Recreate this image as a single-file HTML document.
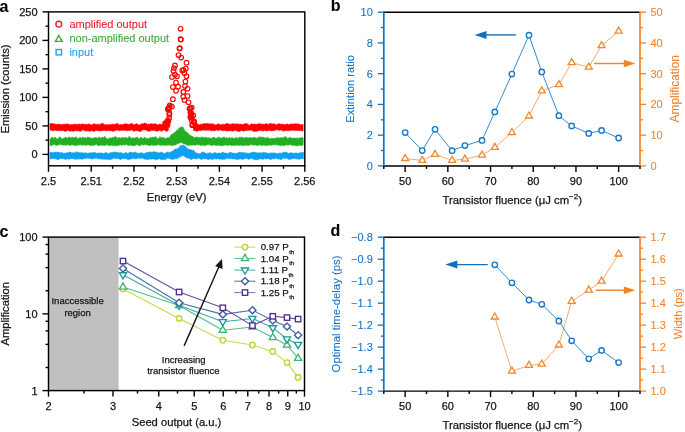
<!DOCTYPE html>
<html><head><meta charset="utf-8"><style>
html,body{margin:0;padding:0;background:#fff;}
svg{display:block;will-change:transform;}
text{font-family:"Liberation Sans",sans-serif;}
</style></head><body>
<svg width="685" height="432" viewBox="0 0 685 432">
<rect width="685" height="432" fill="#fff"/>
<text x="-0.6" y="12" font-size="16" fill="#000" stroke="#000" stroke-width="0.08" text-anchor="start" font-weight="bold">a</text>
<text x="330.8" y="11.1" font-size="16" fill="#000" stroke="#000" stroke-width="0.08" text-anchor="start" font-weight="bold">b</text>
<text x="-0.6" y="237" font-size="16" fill="#000" stroke="#000" stroke-width="0.08" text-anchor="start" font-weight="bold">c</text>
<text x="330.6" y="236.2" font-size="16" fill="#000" stroke="#000" stroke-width="0.08" text-anchor="start" font-weight="bold">d</text>
<polygon points="50,152.24 50.8,152.5 51.6,152.3 52.4,152.61 53.2,152.38 54,152.37 54.8,152.34 55.6,152.08 56.4,152.38 57.2,152.03 58,152.08 58.8,152.07 59.6,152.67 60.4,152.7 61.2,152.54 62,152.38 62.8,153.04 63.6,153.32 64.4,153.14 65.2,153.16 66,152.74 66.8,153.11 67.6,152.56 68.4,152.63 69.2,152.04 70,152.06 70.8,152.59 71.6,152.64 72.4,152.86 73.2,152.72 74,152.87 74.8,152.85 75.6,152.39 76.4,152.14 77.2,151.86 78,152.36 78.8,152.65 79.6,152.74 80.4,152.66 81.2,152.68 82,152.67 82.8,152.84 83.6,153.03 84.4,152.99 85.2,152.81 86,152.67 86.8,153.18 87.6,153.3 88.4,153.11 89.2,153.2 90,152.71 90.8,152.81 91.6,152.63 92.4,152.66 93.2,152.72 94,152.14 94.8,152.56 95.6,152.78 96.4,153.2 97.2,153.37 98,153.01 98.8,153.11 99.6,152.88 100.4,153.1 101.2,152.9 102,153.1 102.8,153.39 103.6,153.41 104.4,153.27 105.2,152.56 106,152.74 106.8,152.73 107.6,153.47 108.4,153.57 109.2,153.28 110,152.79 110.8,152.67 111.6,152.46 112.4,152.52 113.2,152.12 114,152.2 114.8,151.88 115.6,152.36 116.4,152.37 117.2,152.52 118,152.21 118.8,152.81 119.6,152.67 120.4,152.72 121.2,152.46 122,153.11 122.8,153.4 123.6,153.65 124.4,153.17 125.2,152.85 126,152.44 126.8,152.93 127.6,153.36 128.4,153.19 129.2,152.63 130,152.05 130.8,152.11 131.6,152.36 132.4,152.65 133.2,152.67 134,152.28 134.8,152.15 135.6,152.23 136.4,152.68 137.2,153.11 138,153.37 138.8,153.33 139.6,153.06 140.4,153.05 141.2,152.68 142,152.9 142.8,152.99 143.6,153.64 144.4,153.56 145.2,153.25 146,152.87 146.8,152.32 147.6,152.51 148.4,152.24 149.2,152.21 150,151.87 150.8,151.95 151.6,152.17 152.4,152.04 153.2,151.91 154,151.76 154.8,151.8 155.6,152.09 156.4,151.99 157.2,152.61 158,152.81 158.8,152.91 159.6,152.41 160.4,152.2 161.2,152.37 162,152.27 162.8,152.67 163.6,153.17 164.4,153.45 165.2,153.15 166,152.43 166.8,152.14 167.6,152.02 168.4,152.17 169.2,152.75 170,152.48 170.8,151.8 171.6,151.4 172.4,151.2 173.2,150.81 174,149.99 174.8,149.1 175.6,148.91 176.4,148.77 177.2,148.94 178,148.58 178.8,147.52 179.6,146.63 180.4,145.71 181.2,145.63 182,145.27 182.8,145.27 183.6,145.41 184.4,145.65 185.2,146.17 186,147.18 186.8,148.18 187.6,148.67 188.4,149.03 189.2,149.43 190,149.46 190.8,149.71 191.6,149.9 192.4,150.23 193.2,150.33 194,150.76 194.8,151.44 195.6,152.46 196.4,153.13 197.2,153.28 198,153.47 198.8,153.5 199.6,153.9 200.4,153.45 201.2,152.83 202,152.25 202.8,152.12 203.6,152.1 204.4,152.42 205.2,152.98 206,153.49 206.8,153.38 207.6,153.18 208.4,153.15 209.2,152.83 210,152.84 210.8,152.92 211.6,153.48 212.4,153.55 213.2,153.21 214,152.73 214.8,152.76 215.6,152.64 216.4,153.14 217.2,153.28 218,153.33 218.8,153.02 219.6,153 220.4,153.26 221.2,153.07 222,152.42 222.8,151.96 223.6,152.55 224.4,153.09 225.2,153.09 226,153.02 226.8,153.16 227.6,153.57 228.4,153.19 229.2,152.85 230,152.42 230.8,152.16 231.6,152.49 232.4,152.91 233.2,153.32 234,153.29 234.8,153.12 235.6,153.39 236.4,153.31 237.2,153.13 238,152.63 238.8,152.2 239.6,152.23 240.4,152.5 241.2,152.47 242,152.61 242.8,152.25 243.6,152.77 244.4,152.72 245.2,152.98 246,152.72 246.8,153.16 247.6,153.13 248.4,153.39 249.2,153.07 250,153.16 250.8,152.85 251.6,152.46 252.4,152.39 253.2,152.11 254,152.1 254.8,152.39 255.6,152.38 256.4,152.76 257.2,152.7 258,153 258.8,152.89 259.6,152.72 260.4,152.72 261.2,153.09 262,152.76 262.8,152.76 263.6,152.33 264.4,152.47 265.2,152.64 266,152.85 266.8,153.07 267.6,153.06 268.4,153.39 269.2,153.29 270,153.17 270.8,152.85 271.6,152.9 272.4,152.97 273.2,152.93 274,152.94 274.8,152.77 275.6,153.16 276.4,153.3 277.2,153.61 278,153.61 278.8,153.26 279.6,153.01 280.4,153.01 281.2,153.47 282,153.14 282.8,152.48 283.6,152.16 284.4,152.11 285.2,152.2 286,151.91 286.8,152.39 287.6,152.82 288.4,153.48 289.2,153.07 290,153.01 290.8,152.82 291.6,152.82 292.4,152.95 293.2,153.19 294,153.26 294.8,153.31 295.6,152.86 296.4,153.07 297.2,153.1 298,153.45 298.8,153.19 299.6,152.74 300.4,152.49 301.2,152.63 302,152.44 302.8,152.28 303.6,152.27 303.6,158.83 302.8,158.68 302,158.54 301.2,158.39 300.4,158.88 299.6,159.17 298.8,159.4 298,158.81 297.2,159.08 296.4,158.9 295.6,158.85 294.8,158.34 294,158.42 293.2,158.79 292.4,158.85 291.6,158.88 290.8,159.06 290,159.44 289.2,159.57 288.4,159.17 287.6,158.65 286.8,158.27 286,158.34 285.2,158.22 284.4,158.3 283.6,158.14 282.8,158.43 282,159.07 281.2,159.68 280.4,159.5 279.6,159.1 278.8,159.1 278,159.09 277.2,158.82 276.4,158.23 275.6,158.38 274.8,158.7 274,158.8 273.2,159.01 272.4,158.77 271.6,159.31 270.8,159.38 270,159.41 269.2,158.9 268.4,158.69 267.6,158.55 266.8,159.02 266,158.68 265.2,158.81 264.4,158.58 263.6,159.15 262.8,159.28 262,159.35 261.2,158.79 260.4,159 259.6,158.85 258.8,159.57 258,159.72 257.2,159.79 256.4,159.69 255.6,159.66 254.8,159.92 254,159.57 253.2,159.02 252.4,158.66 251.6,158.57 250.8,158.62 250,158.96 249.2,158.98 248.4,159.44 247.6,158.78 246.8,158.59 246,158.14 245.2,158.4 244.4,158.65 243.6,158.9 242.8,159.36 242,159.38 241.2,159.21 240.4,158.64 239.6,159.05 238.8,159.32 238,159.83 237.2,159.21 236.4,159.31 235.6,159.17 234.8,159.07 234,159.07 233.2,158.73 232.4,159 231.6,158.44 230.8,158.43 230,158.51 229.2,158.8 228.4,158.56 227.6,158.22 226.8,158.21 226,158.93 225.2,159.09 224.4,159.27 223.6,159.26 222.8,159.48 222,159.57 221.2,158.97 220.4,159.32 219.6,159.09 218.8,159.09 218,158.8 217.2,158.55 216.4,159.19 215.6,158.89 214.8,158.94 214,158.54 213.2,159.15 212.4,159.59 211.6,159.6 210.8,158.84 210,158.93 209.2,159.35 208.4,159.49 207.6,159.46 206.8,158.77 206,158.98 205.2,158.64 204.4,158.96 203.6,158.82 202.8,158.99 202,159.13 201.2,159.43 200.4,159.11 199.6,158.6 198.8,158.07 198,158.31 197.2,158.51 196.4,159.09 195.6,158.84 194.8,158.72 194,158.18 193.2,158.49 192.4,158.87 191.6,159.42 190.8,159.38 190,158.97 189.2,158.36 188.4,157.91 187.6,158.01 186.8,157.99 186,157.46 185.2,156.96 184.4,156.29 183.6,155.88 182.8,155.35 182,156.03 181.2,156.32 180.4,156.94 179.6,157.08 178.8,157.73 178,158.1 177.2,158.61 176.4,158.51 175.6,158.61 174.8,158.74 174,159.24 173.2,159.35 172.4,159.25 171.6,159.42 170.8,159 170,158.84 169.2,158.28 168.4,158.22 167.6,158.12 166.8,158.56 166,159.08 165.2,159.62 164.4,159.53 163.6,159.64 162.8,159.57 162,159.77 161.2,159.52 160.4,159.29 159.6,158.73 158.8,158.98 158,159.15 157.2,159.54 156.4,159.6 155.6,159.68 154.8,159.22 154,159.02 153.2,158.93 152.4,159.01 151.6,159.29 150.8,158.97 150,159.16 149.2,159.08 148.4,159.39 147.6,159.6 146.8,159.5 146,159.35 145.2,159.29 144.4,158.88 143.6,158.7 142.8,158.25 142,158.09 141.2,158.17 140.4,158.22 139.6,158.4 138.8,158.09 138,158.42 137.2,158.37 136.4,158.77 135.6,158.74 134.8,158.89 134,158.49 133.2,158.39 132.4,158.33 131.6,159.11 130.8,159.02 130,159.21 129.2,159.21 128.4,159.79 127.6,159.56 126.8,159.14 126,158.49 125.2,158.65 124.4,158.53 123.6,158.6 122.8,158.45 122,158.76 121.2,159.26 120.4,159.71 119.6,159.24 118.8,158.67 118,158.2 117.2,158.73 116.4,158.65 115.6,158.55 114.8,158 114,158.23 113.2,158.45 112.4,158.91 111.6,159.2 110.8,159.54 110,159.31 109.2,159.53 108.4,159.41 107.6,159.54 106.8,159.07 106,159.19 105.2,159.18 104.4,159.21 103.6,159.2 102.8,158.89 102,159.29 101.2,159.01 100.4,159.08 99.6,158.77 98.8,158.98 98,158.84 97.2,158.6 96.4,158.03 95.6,158.29 94.8,158.23 94,158.62 93.2,158.57 92.4,159.04 91.6,158.88 90.8,158.9 90,158.46 89.2,158.25 88.4,158.13 87.6,158.06 86.8,158.21 86,158.5 85.2,158.52 84.4,158.54 83.6,158.86 82.8,159.2 82,159.26 81.2,158.88 80.4,159.12 79.6,158.91 78.8,159.23 78,158.61 77.2,159.19 76.4,159.02 75.6,159.7 74.8,159.12 74,158.95 73.2,158.75 72.4,158.74 71.6,158.47 70.8,158.48 70,158.89 69.2,159.55 68.4,159.11 67.6,158.86 66.8,158.78 66,159.39 65.2,159.52 64.4,158.97 63.6,158.46 62.8,158.74 62,158.67 61.2,158.67 60.4,158.13 59.6,158.87 58.8,159.29 58,160 57.2,159.27 56.4,159.05 55.6,158.76 54.8,158.97 54,158.58 53.2,158.43 52.4,158.61 51.6,158.61 50.8,158.84 50,158.97" fill="#0fa0f0" stroke="#0fa0f0" stroke-width="0.6" stroke-linejoin="round"/>
<polygon points="50,139.14 50.6,139.05 51.2,138.06 51.8,137.19 52.4,137.01 53,137.95 53.6,138.42 54.2,138.29 54.8,137.33 55.4,137.24 56,137.61 56.6,138.49 57.2,138.98 57.8,139.03 58.4,138.41 59,137.62 59.6,136.75 60.2,137.04 60.8,137.65 61.4,138.49 62,138.7 62.6,138.66 63.2,138.48 63.8,138.19 64.4,138.09 65,137.32 65.6,137.66 66.2,137.32 66.8,138.26 67.4,138.12 68,138.19 68.6,137.35 69.2,136.93 69.8,137.28 70.4,137.89 71,137.74 71.6,137.14 72.2,136.95 72.8,137.46 73.4,137.8 74,137.47 74.6,137.49 75.2,137.09 75.8,137.17 76.4,137.02 77,138.04 77.6,138.4 78.2,138.85 78.8,138.34 79.4,137.9 80,137.22 80.6,137.74 81.2,138.24 81.8,138.3 82.4,137.3 83,137.08 83.6,137.47 84.2,137.9 84.8,137.64 85.4,137.63 86,138.17 86.6,138.14 87.2,137.47 87.8,136.84 88.4,137.05 89,137.74 89.6,137.59 90.2,137.99 90.8,138.05 91.4,138.38 92,137.75 92.6,137.99 93.2,137.79 93.8,138.44 94.4,137.65 95,137.56 95.6,137.49 96.2,137.56 96.8,138.34 97.4,138.06 98,137.94 98.6,137.17 99.2,137.08 99.8,137.59 100.4,138.37 101,138.08 101.6,137.79 102.2,137 102.8,137.89 103.4,137.62 104,137.45 104.6,136.47 105.2,136.74 105.8,137.64 106.4,138.52 107,138.88 107.6,138.99 108.2,139.04 108.8,138.61 109.4,137.74 110,137.75 110.6,138.19 111.2,138.03 111.8,137.74 112.4,137.35 113,137.71 113.6,137.36 114.2,137.13 114.8,136.74 115.4,136.68 116,136.88 116.6,137.89 117.2,137.73 117.8,138.38 118.4,137.58 119,137.83 119.6,137.68 120.2,138.33 120.8,138.41 121.4,137.59 122,137.22 122.6,137.16 123.2,138.08 123.8,137.78 124.4,137.78 125,137.75 125.6,137.58 126.2,137.63 126.8,137.54 127.4,138.32 128,137.93 128.6,137.1 129.2,136.35 129.8,137.29 130.4,137.52 131,138.25 131.6,138.23 132.2,138.32 132.8,137.81 133.4,137.87 134,138.17 134.6,138.16 135.2,137.9 135.8,137.58 136.4,137.6 137,136.84 137.6,137.3 138.2,137.99 138.8,138.66 139.4,138.86 140,137.91 140.6,137.48 141.2,136.98 141.8,137.98 142.4,138.74 143,138.65 143.6,137.9 144.2,137.34 144.8,137.45 145.4,138.17 146,137.91 146.6,138.24 147.2,138.04 147.8,138.72 148.4,138.69 149,138.55 149.6,138.02 150.2,137.54 150.8,137.28 151.4,137.76 152,137.5 152.6,137.33 153.2,137.3 153.8,137.48 154.4,137.34 155,136.57 155.6,136.89 156.2,137.17 156.8,138.18 157.4,138.54 158,139.24 158.6,138.48 159.2,137.63 159.8,136.68 160.4,136.92 161,137.59 161.6,137.97 162.2,137.68 162.8,137.37 163.4,137.56 164,138.03 164.6,138.38 165.2,138.62 165.8,138.61 166.4,137.94 167,137.93 167.6,137.54 168.2,138.01 168.8,137.52 169.4,137.51 170,136.54 170.6,135.83 171.2,134.73 171.8,134.11 172.4,134.21 173,133.99 173.6,133.6 174.2,132.51 174.8,132.38 175.4,131.99 176,131.24 176.6,130.47 177.2,130.05 177.8,130.29 178.4,128.96 179,128.19 179.6,127.44 180.2,127.65 180.8,127.54 181.4,127.09 182,127.09 182.6,126.81 183.2,127.55 183.8,128.85 184.4,129.92 185,131.28 185.6,131.22 186.2,132.09 186.8,132.15 187.4,132.61 188,133.09 188.6,134.19 189.2,134.61 189.8,134.99 190.4,135.21 191,135.91 191.6,136.24 192.2,136.31 192.8,136.87 193.4,136.84 194,137.33 194.6,137.81 195.2,137.75 195.8,137.12 196.4,136.78 197,137.28 197.6,137.47 198.2,137.45 198.8,136.95 199.4,137.6 200,137.85 200.6,137.7 201.2,136.96 201.8,136.8 202.4,137.32 203,137.89 203.6,137.57 204.2,137.15 204.8,137.21 205.4,137.55 206,137.68 206.6,137.27 207.2,137.85 207.8,137.88 208.4,138.15 209,137.52 209.6,137.63 210.2,137.95 210.8,138.63 211.4,138.57 212,137.86 212.6,137.57 213.2,137.4 213.8,137.2 214.4,137.39 215,137.62 215.6,138.49 216.2,137.96 216.8,138.45 217.4,138.07 218,137.81 218.6,136.88 219.2,136.98 219.8,137.49 220.4,138.44 221,137.95 221.6,137.93 222.2,137.35 222.8,137.8 223.4,137.29 224,137.2 224.6,137.21 225.2,138.05 225.8,137.86 226.4,137.83 227,137.7 227.6,138.61 228.2,138.3 228.8,137.58 229.4,137.55 230,138.38 230.6,138.76 231.2,137.81 231.8,137.76 232.4,137.66 233,138.57 233.6,138.24 234.2,138.71 234.8,137.91 235.4,138.09 236,137.45 236.6,137.71 237.2,137.77 237.8,138.42 238.4,138.18 239,137.51 239.6,137.05 240.2,137.41 240.8,137.59 241.4,137.29 242,137 242.6,137.37 243.2,138.19 243.8,137.97 244.4,137.8 245,137.65 245.6,137.65 246.2,137.94 246.8,137.26 247.4,137.86 248,137.55 248.6,138.1 249.2,137.78 249.8,137.64 250.4,137.6 251,137.72 251.6,137.98 252.2,137.83 252.8,137.85 253.4,137.17 254,137.35 254.6,137.41 255.2,137.63 255.8,137.79 256.4,138.1 257,138.34 257.6,137.71 258.2,137.39 258.8,137.01 259.4,136.96 260,136.91 260.6,136.89 261.2,137.23 261.8,137.31 262.4,137.26 263,137.47 263.6,137.01 264.2,137.75 264.8,137.9 265.4,138.36 266,137.63 266.6,137.34 267.2,137.2 267.8,138.15 268.4,137.76 269,138.27 269.6,138.32 270.2,138.96 270.8,138.91 271.4,138.06 272,138.32 272.6,137.98 273.2,138.79 273.8,138.72 274.4,138.37 275,138.19 275.6,138.21 276.2,138.1 276.8,137.64 277.4,137.45 278,137.55 278.6,138.13 279.2,137.62 279.8,138.32 280.4,137.52 281,137.76 281.6,137.87 282.2,137.94 282.8,137.68 283.4,137.24 284,137.36 284.6,137.12 285.2,136.77 285.8,136.61 286.4,137.57 287,138.1 287.6,138.88 288.2,138.06 288.8,138.17 289.4,137.34 290,137.73 290.6,137.57 291.2,137.83 291.8,138.19 292.4,138.11 293,138.34 293.6,138.35 294.2,137.87 294.8,138.31 295.4,138.04 296,138.35 296.6,138.14 297.2,137.75 297.8,138.39 298.4,138.15 299,138.26 299.6,138.02 300.2,137.87 300.8,137.68 301.4,137.65 302,137.23 302.6,137.92 303.2,138 303.2,144.92 302.6,145.33 302,145.45 301.4,145.58 300.8,145.34 300.2,145.51 299.6,145.15 299,145.35 298.4,145.42 297.8,145.88 297.2,145.77 296.6,145.76 296,145.57 295.4,145.72 294.8,145.31 294.2,145.43 293.6,145.44 293,145.43 292.4,145.14 291.8,145.05 291.2,145.1 290.6,144.97 290,144.52 289.4,144.53 288.8,144.87 288.2,145.44 287.6,145.28 287,144.85 286.4,144.64 285.8,145.19 285.2,145.27 284.6,145.37 284,145.42 283.4,145.88 282.8,145.39 282.2,145.36 281.6,145.43 281,145.63 280.4,145.5 279.8,145.31 279.2,145.35 278.6,145.23 278,145.01 277.4,144.88 276.8,144.75 276.2,145.03 275.6,144.87 275,144.81 274.4,144.61 273.8,144.78 273.2,144.9 272.6,144.8 272,145.2 271.4,145.18 270.8,145.56 270.2,145.08 269.6,145.2 269,144.85 268.4,145.07 267.8,145.25 267.2,145.6 266.6,145.72 266,145.41 265.4,145.5 264.8,145.23 264.2,145.37 263.6,145.04 263,145.31 262.4,145.48 261.8,145.68 261.2,145.34 260.6,144.95 260,144.69 259.4,145.14 258.8,145.14 258.2,145.23 257.6,145.32 257,145.67 256.4,145.47 255.8,145.02 255.2,144.76 254.6,145.08 254,145.18 253.4,145.22 252.8,144.77 252.2,144.75 251.6,144.66 251,144.69 250.4,144.66 249.8,145.13 249.2,145.17 248.6,145.45 248,145.05 247.4,145.43 246.8,145.06 246.2,145.43 245.6,145.25 245,145.45 244.4,145.37 243.8,145.53 243.2,145.52 242.6,145.45 242,145.38 241.4,145.42 240.8,145.01 240.2,145 239.6,145.24 239,145.69 238.4,145.46 237.8,145.19 237.2,144.69 236.6,145.24 236,145.2 235.4,145.44 234.8,145.3 234.2,145.41 233.6,145.28 233,145.38 232.4,145.39 231.8,145.54 231.2,145.34 230.6,145.19 230,145.2 229.4,144.95 228.8,145.07 228.2,145.26 227.6,145.62 227,145.48 226.4,145.07 225.8,144.96 225.2,144.89 224.6,145.13 224,145.14 223.4,145.38 222.8,145.65 222.2,145.69 221.6,145.75 221,145.77 220.4,145.78 219.8,145.42 219.2,145.11 218.6,145.13 218,145.36 217.4,145.37 216.8,145.47 216.2,145.59 215.6,145.57 215,145.37 214.4,144.97 213.8,145.01 213.2,145.02 212.6,145.26 212,145.42 211.4,145.52 210.8,145.46 210.2,145.02 209.6,144.75 209,144.62 208.4,144.67 207.8,144.83 207.2,144.83 206.6,145.05 206,145.11 205.4,145.51 204.8,145.87 204.2,145.64 203.6,145.18 203,145.17 202.4,144.98 201.8,145.4 201.2,145.4 200.6,145.46 200,145.19 199.4,144.65 198.8,144.87 198.2,144.87 197.6,144.93 197,144.69 196.4,144.57 195.8,144.97 195.2,145.33 194.6,145.43 194,145 193.4,144.69 192.8,145.08 192.2,145.26 191.6,145.18 191,144.98 190.4,145.19 189.8,145.39 189.2,145.12 188.6,145.1 188,145.25 187.4,145.7 186.8,145.21 186.2,144.68 185.6,144.05 185,144.08 184.4,144.07 183.8,144.04 183.2,143.66 182.6,143.16 182,142.52 181.4,142.45 180.8,142.3 180.2,142.78 179.6,143.09 179,143.31 178.4,143.41 177.8,143.13 177.2,143.85 176.6,144.07 176,144.94 175.4,144.91 174.8,145.32 174.2,144.97 173.6,145.12 173,145.38 172.4,145.61 171.8,145.71 171.2,145.24 170.6,145.2 170,144.75 169.4,145.03 168.8,145.07 168.2,145.14 167.6,145 167,145.16 166.4,145.19 165.8,145.56 165.2,145.16 164.6,145.32 164,144.88 163.4,145.18 162.8,145.18 162.2,145.39 161.6,144.86 161,145.18 160.4,145.36 159.8,145.49 159.2,144.84 158.6,144.45 158,144.86 157.4,144.92 156.8,145.38 156.2,144.98 155.6,145.28 155,145.17 154.4,145.26 153.8,145.42 153.2,145.24 152.6,145.28 152,144.79 151.4,144.91 150.8,145.2 150.2,145.52 149.6,145.75 149,145.39 148.4,145.3 147.8,145.14 147.2,145.11 146.6,145.04 146,144.57 145.4,144.67 144.8,144.71 144.2,144.83 143.6,145.05 143,144.91 142.4,144.84 141.8,144.52 141.2,144.88 140.6,145.36 140,145.59 139.4,145.71 138.8,145.73 138.2,145.33 137.6,144.86 137,144.43 136.4,144.48 135.8,145.04 135.2,145.51 134.6,146.02 134,145.43 133.4,145.42 132.8,145.38 132.2,145.89 131.6,145.53 131,145.38 130.4,144.88 129.8,145.13 129.2,145.2 128.6,145.58 128,145.55 127.4,145.11 126.8,144.71 126.2,144.34 125.6,144.54 125,145.14 124.4,145.12 123.8,144.91 123.2,144.39 122.6,144.92 122,144.96 121.4,145.27 120.8,144.81 120.2,144.96 119.6,144.93 119,145.27 118.4,145.35 117.8,145.55 117.2,145.53 116.6,145.8 116,145.54 115.4,145.73 114.8,145.61 114.2,145.76 113.6,145.53 113,145.69 112.4,145.38 111.8,145.18 111.2,145.17 110.6,145.22 110,145.5 109.4,145.55 108.8,145.82 108.2,145.48 107.6,145.03 107,144.54 106.4,144.97 105.8,144.94 105.2,145.57 104.6,145.42 104,145.45 103.4,145.15 102.8,145.25 102.2,145.37 101.6,145.39 101,145.04 100.4,145.22 99.8,145.42 99.2,145.7 98.6,145.73 98,145.39 97.4,144.95 96.8,144.6 96.2,144.45 95.6,144.58 95,144.72 94.4,145.15 93.8,145.31 93.2,145.5 92.6,145.57 92,145.26 91.4,145.24 90.8,145.2 90.2,145.79 89.6,145.35 89,145.03 88.4,144.64 87.8,144.72 87.2,145.06 86.6,145.29 86,145.51 85.4,145.37 84.8,145.08 84.2,144.83 83.6,145.06 83,145.29 82.4,145.2 81.8,145.09 81.2,144.77 80.6,144.92 80,144.67 79.4,144.98 78.8,144.85 78.2,145.19 77.6,145 77,145.46 76.4,145.48 75.8,145.61 75.2,145.55 74.6,145.16 74,145.24 73.4,145.24 72.8,145.01 72.2,144.81 71.6,144.65 71,145.17 70.4,145.57 69.8,145.73 69.2,145.27 68.6,144.79 68,144.53 67.4,145.09 66.8,145.08 66.2,145.23 65.6,145.02 65,145.07 64.4,145.14 63.8,145.12 63.2,145.13 62.6,144.98 62,144.66 61.4,144.75 60.8,144.51 60.2,144.45 59.6,144.65 59,144.8 58.4,144.87 57.8,145.04 57.2,145.23 56.6,145.43 56,145.24 55.4,145 54.8,144.73 54.2,144.32 53.6,144.43 53,144.85 52.4,145.24 51.8,145.69 51.2,145.67 50.6,145.45 50,144.96" fill="#22b022" stroke="#22b022" stroke-width="0.6" stroke-linejoin="round"/>
<polygon points="50,123.49 50.8,123.69 51.6,123.55 52.4,123.81 53.2,123.54 54,123.88 54.8,123.91 55.6,124.22 56.4,124.52 57.2,124.13 58,124.37 58.8,124.05 59.6,124.5 60.4,124.36 61.2,124.65 62,124.5 62.8,124.31 63.6,124.4 64.4,124.16 65.2,124.34 66,124.08 66.8,124.04 67.6,124.02 68.4,124.06 69.2,124.78 70,124.56 70.8,124.79 71.6,124.46 72.4,124.58 73.2,124.51 74,124.13 74.8,124.32 75.6,124.1 76.4,124.35 77.2,124.46 78,124.25 78.8,124.36 79.6,124.09 80.4,124.42 81.2,124.21 82,124.13 82.8,123.85 83.6,124.13 84.4,124.44 85.2,124.34 86,124.56 86.8,124.22 87.6,124.39 88.4,123.94 89.2,124.03 90,124.4 90.8,124.71 91.6,124.94 92.4,124.42 93.2,124.15 94,123.76 94.8,123.96 95.6,124.22 96.4,124.6 97.2,124.17 98,124.24 98.8,124.32 99.6,124.72 100.4,124.18 101.2,123.72 102,123.29 102.8,123.4 103.6,123.89 104.4,124.38 105.2,124.75 106,124.64 106.8,124.89 107.6,124.85 108.4,124.71 109.2,124.48 110,124.55 110.8,124.54 111.6,124.58 112.4,124.19 113.2,124.25 114,124.07 114.8,124.51 115.6,124.06 116.4,123.84 117.2,123.26 118,123.79 118.8,124.38 119.6,124.88 120.4,124.55 121.2,124.48 122,124.58 122.8,124.74 123.6,124.29 124.4,123.9 125.2,123.79 126,123.83 126.8,123.94 127.6,124.11 128.4,124.61 129.2,124.3 130,124.24 130.8,123.53 131.6,123.58 132.4,123.77 133.2,124.2 134,124.84 134.8,124.55 135.6,124.1 136.4,123.68 137.2,123.79 138,124.53 138.8,125.01 139.6,124.92 140.4,124.49 141.2,123.79 142,123.93 142.8,123.77 143.6,123.81 144.4,123.3 145.2,123.14 146,123.56 146.8,123.65 147.6,124.42 148.4,123.94 149.2,124.54 150,123.87 150.8,123.81 151.6,123.69 152.4,123.78 153.2,124.36 154,123.93 154.8,123.78 155.6,123.81 156.4,124.23 157.2,124.87 158,124.84 158.8,124.34 159.6,124.15 160.4,124.14 161.2,124.44 162,124.68 162.8,124.32 163.6,124.72 164.4,124.55 165.2,124.35 166,123.59 166.8,123.54 167.6,124.19 168.4,124.83 168.4,130.15 167.6,130.83 166.8,131.52 166,131.13 165.2,130.61 164.4,129.92 163.6,129.81 162.8,130.4 162,131.14 161.2,131.09 160.4,130.66 159.6,130.2 158.8,130.61 158,131.02 157.2,131.21 156.4,131.13 155.6,130.57 154.8,130.82 154,130.47 153.2,130.58 152.4,130.29 151.6,130.25 150.8,130.66 150,130.94 149.2,131.25 148.4,131.22 147.6,130.91 146.8,130.58 146,129.95 145.2,129.65 144.4,129.77 143.6,129.74 142.8,129.79 142,130.4 141.2,131.03 140.4,131.44 139.6,131.43 138.8,131.11 138,131.12 137.2,130.57 136.4,130.69 135.6,130.45 134.8,130.94 134,131.27 133.2,130.91 132.4,130.24 131.6,129.86 130.8,130.11 130,130.57 129.2,130.28 128.4,130.63 127.6,130.66 126.8,130.62 126,130.29 125.2,130.58 124.4,130.53 123.6,130.35 122.8,129.97 122,130.25 121.2,130.59 120.4,130.46 119.6,130.7 118.8,130.4 118,130.26 117.2,129.85 116.4,130.18 115.6,130.4 114.8,130.67 114,130.91 113.2,131.24 112.4,131.29 111.6,130.77 110.8,130.67 110,130.85 109.2,130.73 108.4,130.48 107.6,130.47 106.8,131 106,130.84 105.2,130.37 104.4,130.14 103.6,130.48 102.8,130.8 102,130.61 101.2,130.82 100.4,130.93 99.6,130.91 98.8,130.8 98,130.64 97.2,130.55 96.4,130.19 95.6,130.48 94.8,130.96 94,131.32 93.2,131.27 92.4,130.95 91.6,130.76 90.8,130.77 90,131.2 89.2,131.41 88.4,130.75 87.6,130.81 86.8,130.8 86,131.23 85.2,130.86 84.4,130.42 83.6,129.95 82.8,129.84 82,130.27 81.2,130.99 80.4,131.24 79.6,131.15 78.8,130.73 78,130.96 77.2,130.75 76.4,130.7 75.6,130.47 74.8,130.79 74,131.33 73.2,131.33 72.4,130.93 71.6,130.81 70.8,130.89 70,131.4 69.2,130.79 68.4,130.46 67.6,130.14 66.8,130.72 66,131.24 65.2,131.41 64.4,131.09 63.6,130.67 62.8,130.55 62,130.75 61.2,130.71 60.4,130.84 59.6,130.44 58.8,130.7 58,130.41 57.2,130.75 56.4,130.51 55.6,130.2 54.8,130.13 54,130.53 53.2,130.61 52.4,130.81 51.6,130.37 50.8,130.3 50,129.78" fill="#ff0000" stroke="#ff0000" stroke-width="0.6" stroke-linejoin="round"/>
<polygon points="193.5,124.83 194.3,124.71 195.1,124.87 195.9,124.35 196.7,123.95 197.5,123.76 198.3,124.47 199.1,124.9 199.9,124.53 200.7,124.25 201.5,124.32 202.3,124.16 203.1,123.95 203.9,123.55 204.7,123.56 205.5,123.69 206.3,123.62 207.1,123.71 207.9,123.44 208.7,123.85 209.5,123.67 210.3,124.13 211.1,123.74 211.9,123.76 212.7,123.93 213.5,123.95 214.3,124.67 215.1,124.62 215.9,125.15 216.7,124.52 217.5,124.18 218.3,123.55 219.1,124.18 219.9,124.49 220.7,124.92 221.5,124.54 222.3,124.14 223.1,124.29 223.9,124.31 224.7,124.54 225.5,124 226.3,123.79 227.1,123.34 227.9,123.79 228.7,124.06 229.5,124.13 230.3,124.26 231.1,124.03 231.9,124.24 232.7,123.67 233.5,123.67 234.3,124.01 235.1,124.16 235.9,124.07 236.7,123.79 237.5,123.78 238.3,124.37 239.1,124.07 239.9,124.6 240.7,123.92 241.5,124.54 242.3,124.3 243.1,124.42 243.9,124.09 244.7,123.78 245.5,123.82 246.3,123.6 247.1,123.66 247.9,124.25 248.7,124.88 249.5,125.33 250.3,124.62 251.1,124.05 251.9,124.03 252.7,123.99 253.5,124.34 254.3,123.86 255.1,124.6 255.9,124.03 256.7,124.44 257.5,123.93 258.3,124.03 259.1,123.39 259.9,123.78 260.7,124.09 261.5,124.24 262.3,123.92 263.1,124.23 263.9,124.25 264.7,124.36 265.5,123.74 266.3,123.71 267.1,123.87 267.9,124.33 268.7,124.34 269.5,123.79 270.3,123.29 271.1,123.62 271.9,123.95 272.7,124.1 273.5,123.78 274.3,123.87 275.1,124.22 275.9,124.71 276.7,124.68 277.5,124.28 278.3,123.68 279.1,123.8 279.9,123.97 280.7,124.49 281.5,123.95 282.3,124.27 283.1,123.96 283.9,124.59 284.7,124.63 285.5,124.76 286.3,124.1 287.1,124.13 287.9,124.12 288.7,124.81 289.5,124.29 290.3,124.06 291.1,124.03 291.9,124.11 292.7,124.09 293.5,123.72 294.3,123.9 295.1,123.78 295.9,123.9 296.7,123.78 297.5,124.18 298.3,123.87 299.1,124.08 299.9,124.32 300.7,124.92 301.5,124.6 302.3,124.52 303.1,124.39 303.1,130.87 302.3,131.04 301.5,130.65 300.7,130.81 299.9,130.47 299.1,130.43 298.3,130.73 297.5,130.56 296.7,130.38 295.9,130.16 295.1,130.18 294.3,130.59 293.5,130.29 292.7,130.18 291.9,130.02 291.1,130.22 290.3,130.51 289.5,130.7 288.7,130.7 287.9,130.78 287.1,130.5 286.3,130.65 285.5,130.54 284.7,130.86 283.9,131.02 283.1,131 282.3,130.58 281.5,130.1 280.7,129.9 279.9,130.15 279.1,130.19 278.3,130.07 277.5,129.84 276.7,129.72 275.9,130.04 275.1,130.32 274.3,130.41 273.5,130.4 272.7,130.79 271.9,131.05 271.1,130.74 270.3,130.49 269.5,130.26 268.7,130.39 267.9,130.64 267.1,130.74 266.3,130.92 265.5,130.36 264.7,130.51 263.9,130.84 263.1,131.07 262.3,130.79 261.5,130.6 260.7,130.37 259.9,130.67 259.1,130.15 258.3,130.65 257.5,130.84 256.7,131.46 255.9,131.26 255.1,131.3 254.3,131.28 253.5,131.55 252.7,130.91 251.9,130.3 251.1,129.93 250.3,130.17 249.5,130.21 248.7,130.23 247.9,130.17 247.1,130.62 246.3,130.54 245.5,130.44 244.7,130.68 243.9,131.11 243.1,131.33 242.3,130.62 241.5,130.53 240.7,130.77 239.9,131.46 239.1,131.43 238.3,131.56 237.5,131.18 236.7,130.8 235.9,130.21 235.1,130.13 234.3,130.48 233.5,131.05 232.7,131.09 231.9,130.89 231.1,130.81 230.3,130.83 229.5,130.72 228.7,130.8 227.9,131.12 227.1,130.94 226.3,130.79 225.5,130.59 224.7,130.57 223.9,130.66 223.1,130.68 222.3,130.67 221.5,130.31 220.7,129.93 219.9,130.05 219.1,130.12 218.3,130.42 217.5,130.29 216.7,129.93 215.9,130.11 215.1,130.71 214.3,130.75 213.5,130.74 212.7,130.46 211.9,130.84 211.1,130.76 210.3,130.35 209.5,130.05 208.7,130.13 207.9,130.19 207.1,130.06 206.3,130.15 205.5,130.28 204.7,130.34 203.9,129.83 203.1,129.81 202.3,130.5 201.5,130.37 200.7,130.62 199.9,130.27 199.1,130.66 198.3,130.63 197.5,130.97 196.7,131.26 195.9,130.91 195.1,130.75 194.3,130.36 193.5,130.61" fill="#ff0000" stroke="#ff0000" stroke-width="0.6" stroke-linejoin="round"/>
<circle cx="180.6" cy="28.75" r="2.3" stroke="#ff0000" stroke-width="1.15" fill="none"/>
<circle cx="180.6" cy="39.2" r="2.3" stroke="#ff0000" stroke-width="1.15" fill="none"/>
<circle cx="179.8" cy="48.1" r="2.3" stroke="#ff0000" stroke-width="1.15" fill="none"/>
<circle cx="178.5" cy="55" r="2.3" stroke="#ff0000" stroke-width="1.15" fill="none"/>
<circle cx="181.2" cy="57.5" r="2.3" stroke="#ff0000" stroke-width="1.15" fill="none"/>
<circle cx="186.5" cy="62.7" r="2.3" stroke="#ff0000" stroke-width="1.15" fill="none"/>
<circle cx="175" cy="65.4" r="2.3" stroke="#ff0000" stroke-width="1.15" fill="none"/>
<circle cx="173.5" cy="71" r="2.3" stroke="#ff0000" stroke-width="1.15" fill="none"/>
<circle cx="182.3" cy="70.4" r="2.3" stroke="#ff0000" stroke-width="1.15" fill="none"/>
<circle cx="175" cy="74.6" r="2.3" stroke="#ff0000" stroke-width="1.15" fill="none"/>
<circle cx="177" cy="76.25" r="2.3" stroke="#ff0000" stroke-width="1.15" fill="none"/>
<circle cx="184.4" cy="73.1" r="2.3" stroke="#ff0000" stroke-width="1.15" fill="none"/>
<circle cx="186.5" cy="76.25" r="2.3" stroke="#ff0000" stroke-width="1.15" fill="none"/>
<circle cx="185.4" cy="81.5" r="2.3" stroke="#ff0000" stroke-width="1.15" fill="none"/>
<circle cx="172" cy="77" r="2.3" stroke="#ff0000" stroke-width="1.15" fill="none"/>
<circle cx="176" cy="82.5" r="2.3" stroke="#ff0000" stroke-width="1.15" fill="none"/>
<circle cx="178.1" cy="86.7" r="2.3" stroke="#ff0000" stroke-width="1.15" fill="none"/>
<circle cx="172.9" cy="87.1" r="2.3" stroke="#ff0000" stroke-width="1.15" fill="none"/>
<circle cx="187.5" cy="88.75" r="2.3" stroke="#ff0000" stroke-width="1.15" fill="none"/>
<circle cx="176" cy="90.8" r="2.3" stroke="#ff0000" stroke-width="1.15" fill="none"/>
<circle cx="183.3" cy="91.9" r="2.3" stroke="#ff0000" stroke-width="1.15" fill="none"/>
<circle cx="187.5" cy="96" r="2.3" stroke="#ff0000" stroke-width="1.15" fill="none"/>
<circle cx="183.3" cy="96.7" r="2.3" stroke="#ff0000" stroke-width="1.15" fill="none"/>
<circle cx="172.9" cy="99.2" r="2.3" stroke="#ff0000" stroke-width="1.15" fill="none"/>
<circle cx="188.5" cy="102.3" r="2.3" stroke="#ff0000" stroke-width="1.15" fill="none"/>
<circle cx="169.8" cy="105.4" r="2.3" stroke="#ff0000" stroke-width="1.15" fill="none"/>
<circle cx="171.9" cy="106.5" r="2.3" stroke="#ff0000" stroke-width="1.15" fill="none"/>
<circle cx="191.7" cy="107.5" r="2.3" stroke="#ff0000" stroke-width="1.15" fill="none"/>
<circle cx="167.89" cy="109.17" r="2.3" stroke="#ff0000" stroke-width="1.15" fill="none"/>
<circle cx="166.73" cy="123.43" r="2.3" stroke="#ff0000" stroke-width="1.15" fill="none"/>
<circle cx="169.38" cy="107.24" r="2.3" stroke="#ff0000" stroke-width="1.15" fill="none"/>
<circle cx="169.31" cy="114.8" r="2.3" stroke="#ff0000" stroke-width="1.15" fill="none"/>
<circle cx="168.63" cy="108.18" r="2.3" stroke="#ff0000" stroke-width="1.15" fill="none"/>
<circle cx="167.5" cy="125.19" r="2.3" stroke="#ff0000" stroke-width="1.15" fill="none"/>
<circle cx="168.87" cy="109.09" r="2.3" stroke="#ff0000" stroke-width="1.15" fill="none"/>
<circle cx="169.4" cy="113.05" r="2.3" stroke="#ff0000" stroke-width="1.15" fill="none"/>
<circle cx="169.1" cy="118.33" r="2.3" stroke="#ff0000" stroke-width="1.15" fill="none"/>
<circle cx="167.19" cy="122.42" r="2.3" stroke="#ff0000" stroke-width="1.15" fill="none"/>
<circle cx="168.29" cy="120.78" r="2.3" stroke="#ff0000" stroke-width="1.15" fill="none"/>
<circle cx="167.25" cy="121.19" r="2.3" stroke="#ff0000" stroke-width="1.15" fill="none"/>
<circle cx="168" cy="121.7" r="2.3" stroke="#ff0000" stroke-width="1.15" fill="none"/>
<circle cx="165.46" cy="124.29" r="2.3" stroke="#ff0000" stroke-width="1.15" fill="none"/>
<circle cx="165.17" cy="123.42" r="2.3" stroke="#ff0000" stroke-width="1.15" fill="none"/>
<circle cx="167.63" cy="121.31" r="2.3" stroke="#ff0000" stroke-width="1.15" fill="none"/>
<circle cx="193.16" cy="115.46" r="2.3" stroke="#ff0000" stroke-width="1.15" fill="none"/>
<circle cx="191.49" cy="117.01" r="2.3" stroke="#ff0000" stroke-width="1.15" fill="none"/>
<circle cx="193.98" cy="121.46" r="2.3" stroke="#ff0000" stroke-width="1.15" fill="none"/>
<circle cx="191.5" cy="117.75" r="2.3" stroke="#ff0000" stroke-width="1.15" fill="none"/>
<circle cx="191.16" cy="114.5" r="2.3" stroke="#ff0000" stroke-width="1.15" fill="none"/>
<circle cx="191.65" cy="120.18" r="2.3" stroke="#ff0000" stroke-width="1.15" fill="none"/>
<circle cx="191.26" cy="113.2" r="2.3" stroke="#ff0000" stroke-width="1.15" fill="none"/>
<circle cx="190.4" cy="113.07" r="2.3" stroke="#ff0000" stroke-width="1.15" fill="none"/>
<circle cx="193.91" cy="121.53" r="2.3" stroke="#ff0000" stroke-width="1.15" fill="none"/>
<circle cx="191.3" cy="115.49" r="2.3" stroke="#ff0000" stroke-width="1.15" fill="none"/>
<circle cx="189.53" cy="108.87" r="2.3" stroke="#ff0000" stroke-width="1.15" fill="none"/>
<circle cx="190.35" cy="108.04" r="2.3" stroke="#ff0000" stroke-width="1.15" fill="none"/>
<circle cx="190.34" cy="117.21" r="2.3" stroke="#ff0000" stroke-width="1.15" fill="none"/>
<circle cx="192.55" cy="124.32" r="2.3" stroke="#ff0000" stroke-width="1.15" fill="none"/>
<circle cx="194.09" cy="122.71" r="2.3" stroke="#ff0000" stroke-width="1.15" fill="none"/>
<circle cx="192.27" cy="125.13" r="2.3" stroke="#ff0000" stroke-width="1.15" fill="none"/>
<circle cx="180.9" cy="39.6" r="2.3" stroke="#ff0000" stroke-width="1.15" fill="none"/>
<circle cx="179.5" cy="48.6" r="2.3" stroke="#ff0000" stroke-width="1.15" fill="none"/>
<circle cx="174" cy="68" r="2.3" stroke="#ff0000" stroke-width="1.15" fill="none"/>
<circle cx="183.5" cy="70" r="2.3" stroke="#ff0000" stroke-width="1.15" fill="none"/>
<circle cx="185.8" cy="68.5" r="2.3" stroke="#ff0000" stroke-width="1.15" fill="none"/>
<circle cx="185" cy="86" r="2.3" stroke="#ff0000" stroke-width="1.15" fill="none"/>
<circle cx="184.5" cy="100" r="2.3" stroke="#ff0000" stroke-width="1.15" fill="none"/>
<rect x="48.5" y="11.9" width="256.3" height="153.9" fill="none" stroke="#000" stroke-width="1.45"/>
<line x1="42.5" y1="154.4" x2="48.5" y2="154.4" stroke="#000" stroke-width="1.4" />
<text x="37.6" y="158.3" font-size="11" fill="#151515" stroke="#151515" stroke-width="0.25" text-anchor="end" >0</text>
<line x1="42.5" y1="125.9" x2="48.5" y2="125.9" stroke="#000" stroke-width="1.4" />
<text x="37.6" y="129.8" font-size="11" fill="#151515" stroke="#151515" stroke-width="0.25" text-anchor="end" >50</text>
<line x1="42.5" y1="97.4" x2="48.5" y2="97.4" stroke="#000" stroke-width="1.4" />
<text x="37.6" y="101.3" font-size="11" fill="#151515" stroke="#151515" stroke-width="0.25" text-anchor="end" >100</text>
<line x1="42.5" y1="68.9" x2="48.5" y2="68.9" stroke="#000" stroke-width="1.4" />
<text x="37.6" y="72.8" font-size="11" fill="#151515" stroke="#151515" stroke-width="0.25" text-anchor="end" >150</text>
<line x1="42.5" y1="40.4" x2="48.5" y2="40.4" stroke="#000" stroke-width="1.4" />
<text x="37.6" y="44.3" font-size="11" fill="#151515" stroke="#151515" stroke-width="0.25" text-anchor="end" >200</text>
<line x1="42.5" y1="11.9" x2="48.5" y2="11.9" stroke="#000" stroke-width="1.4" />
<text x="37.6" y="15.8" font-size="11" fill="#151515" stroke="#151515" stroke-width="0.25" text-anchor="end" >250</text>
<line x1="45.5" y1="140.15" x2="48.5" y2="140.15" stroke="#000" stroke-width="1.4" />
<line x1="45.5" y1="111.65" x2="48.5" y2="111.65" stroke="#000" stroke-width="1.4" />
<line x1="45.5" y1="83.15" x2="48.5" y2="83.15" stroke="#000" stroke-width="1.4" />
<line x1="45.5" y1="54.65" x2="48.5" y2="54.65" stroke="#000" stroke-width="1.4" />
<line x1="45.5" y1="26.15" x2="48.5" y2="26.15" stroke="#000" stroke-width="1.4" />
<line x1="48.5" y1="165.8" x2="48.5" y2="171.8" stroke="#000" stroke-width="1.4" />
<text x="48.5" y="184.6" font-size="11" fill="#151515" stroke="#151515" stroke-width="0.25" text-anchor="middle" >2.5</text>
<line x1="91.22" y1="165.8" x2="91.22" y2="171.8" stroke="#000" stroke-width="1.4" />
<text x="91.22" y="184.6" font-size="11" fill="#151515" stroke="#151515" stroke-width="0.25" text-anchor="middle" >2.51</text>
<line x1="133.93" y1="165.8" x2="133.93" y2="171.8" stroke="#000" stroke-width="1.4" />
<text x="133.93" y="184.6" font-size="11" fill="#151515" stroke="#151515" stroke-width="0.25" text-anchor="middle" >2.52</text>
<line x1="176.65" y1="165.8" x2="176.65" y2="171.8" stroke="#000" stroke-width="1.4" />
<text x="176.65" y="184.6" font-size="11" fill="#151515" stroke="#151515" stroke-width="0.25" text-anchor="middle" >2.53</text>
<line x1="219.37" y1="165.8" x2="219.37" y2="171.8" stroke="#000" stroke-width="1.4" />
<text x="219.37" y="184.6" font-size="11" fill="#151515" stroke="#151515" stroke-width="0.25" text-anchor="middle" >2.54</text>
<line x1="262.08" y1="165.8" x2="262.08" y2="171.8" stroke="#000" stroke-width="1.4" />
<text x="262.08" y="184.6" font-size="11" fill="#151515" stroke="#151515" stroke-width="0.25" text-anchor="middle" >2.55</text>
<line x1="304.8" y1="165.8" x2="304.8" y2="171.8" stroke="#000" stroke-width="1.4" />
<text x="304.8" y="184.6" font-size="11" fill="#151515" stroke="#151515" stroke-width="0.25" text-anchor="middle" >2.56</text>
<line x1="69.86" y1="165.8" x2="69.86" y2="168.8" stroke="#000" stroke-width="1.4" />
<line x1="112.57" y1="165.8" x2="112.57" y2="168.8" stroke="#000" stroke-width="1.4" />
<line x1="155.29" y1="165.8" x2="155.29" y2="168.8" stroke="#000" stroke-width="1.4" />
<line x1="198.01" y1="165.8" x2="198.01" y2="168.8" stroke="#000" stroke-width="1.4" />
<line x1="240.72" y1="165.8" x2="240.72" y2="168.8" stroke="#000" stroke-width="1.4" />
<line x1="283.44" y1="165.8" x2="283.44" y2="168.8" stroke="#000" stroke-width="1.4" />
<text x="0" y="0" font-size="11.2" fill="#151515" stroke="#151515" stroke-width="0.25" text-anchor="middle" transform="translate(8.7,89) rotate(-90)">Emission (counts)</text>
<text x="176.7" y="201" font-size="11.2" fill="#151515" stroke="#151515" stroke-width="0.25" text-anchor="middle" >Energy (eV)</text>
<circle cx="58.8" cy="24.2" r="2.9" stroke="#e8202a" stroke-width="1.4" fill="white"/>
<polygon points="58.8,35.47 55.4,41.36 62.2,41.36" stroke="#3aaa3a" stroke-width="1.4" fill="white" stroke-linejoin="miter"/>
<rect x="56.1" y="49.5" width="5.4" height="5.4" stroke="#20a0e8" stroke-width="1.4" fill="white"/>
<text x="69.4" y="27.8" font-size="11" fill="#e8202a" stroke="#e8202a" stroke-width="0.08" text-anchor="start" >amplified output</text>
<text x="69.4" y="42" font-size="11" fill="#3aaa3a" stroke="#3aaa3a" stroke-width="0.08" text-anchor="start" >non-amplified output</text>
<text x="69.4" y="55.6" font-size="11" fill="#20a0e8" stroke="#20a0e8" stroke-width="0.08" text-anchor="start" >input</text>
<line x1="383.8" y1="12.2" x2="640" y2="12.2" stroke="#000" stroke-width="1.45" />
<line x1="383.8" y1="165.9" x2="640" y2="165.9" stroke="#000" stroke-width="1.45" />
<line x1="383.8" y1="11.5" x2="383.8" y2="166.6" stroke="#1472c0" stroke-width="1.7" />
<line x1="640" y1="11.5" x2="640" y2="166.6" stroke="#f08228" stroke-width="1.7" />
<line x1="377.8" y1="165.9" x2="383.8" y2="165.9" stroke="#1472c0" stroke-width="1.3" />
<text x="372.8" y="169.8" font-size="11" fill="#1472c0" stroke="#1472c0" stroke-width="0.08" text-anchor="end" >0</text>
<line x1="377.8" y1="135.16" x2="383.8" y2="135.16" stroke="#1472c0" stroke-width="1.3" />
<text x="372.8" y="139.06" font-size="11" fill="#1472c0" stroke="#1472c0" stroke-width="0.08" text-anchor="end" >2</text>
<line x1="377.8" y1="104.42" x2="383.8" y2="104.42" stroke="#1472c0" stroke-width="1.3" />
<text x="372.8" y="108.32" font-size="11" fill="#1472c0" stroke="#1472c0" stroke-width="0.08" text-anchor="end" >4</text>
<line x1="377.8" y1="73.68" x2="383.8" y2="73.68" stroke="#1472c0" stroke-width="1.3" />
<text x="372.8" y="77.58" font-size="11" fill="#1472c0" stroke="#1472c0" stroke-width="0.08" text-anchor="end" >6</text>
<line x1="377.8" y1="42.94" x2="383.8" y2="42.94" stroke="#1472c0" stroke-width="1.3" />
<text x="372.8" y="46.84" font-size="11" fill="#1472c0" stroke="#1472c0" stroke-width="0.08" text-anchor="end" >8</text>
<line x1="377.8" y1="12.2" x2="383.8" y2="12.2" stroke="#1472c0" stroke-width="1.3" />
<text x="372.8" y="16.1" font-size="11" fill="#1472c0" stroke="#1472c0" stroke-width="0.08" text-anchor="end" >10</text>
<line x1="380.8" y1="150.53" x2="383.8" y2="150.53" stroke="#1472c0" stroke-width="1.3" />
<line x1="380.8" y1="119.79" x2="383.8" y2="119.79" stroke="#1472c0" stroke-width="1.3" />
<line x1="380.8" y1="89.05" x2="383.8" y2="89.05" stroke="#1472c0" stroke-width="1.3" />
<line x1="380.8" y1="58.31" x2="383.8" y2="58.31" stroke="#1472c0" stroke-width="1.3" />
<line x1="380.8" y1="27.57" x2="383.8" y2="27.57" stroke="#1472c0" stroke-width="1.3" />
<line x1="640" y1="165.9" x2="646" y2="165.9" stroke="#f08228" stroke-width="1.3" />
<text x="650.5" y="169.8" font-size="11" fill="#f08228" stroke="#f08228" stroke-width="0.08" text-anchor="start" >0</text>
<line x1="640" y1="135.16" x2="646" y2="135.16" stroke="#f08228" stroke-width="1.3" />
<text x="650.5" y="139.06" font-size="11" fill="#f08228" stroke="#f08228" stroke-width="0.08" text-anchor="start" >10</text>
<line x1="640" y1="104.42" x2="646" y2="104.42" stroke="#f08228" stroke-width="1.3" />
<text x="650.5" y="108.32" font-size="11" fill="#f08228" stroke="#f08228" stroke-width="0.08" text-anchor="start" >20</text>
<line x1="640" y1="73.68" x2="646" y2="73.68" stroke="#f08228" stroke-width="1.3" />
<text x="650.5" y="77.58" font-size="11" fill="#f08228" stroke="#f08228" stroke-width="0.08" text-anchor="start" >30</text>
<line x1="640" y1="42.94" x2="646" y2="42.94" stroke="#f08228" stroke-width="1.3" />
<text x="650.5" y="46.84" font-size="11" fill="#f08228" stroke="#f08228" stroke-width="0.08" text-anchor="start" >40</text>
<line x1="640" y1="12.2" x2="646" y2="12.2" stroke="#f08228" stroke-width="1.3" />
<text x="650.5" y="16.1" font-size="11" fill="#f08228" stroke="#f08228" stroke-width="0.08" text-anchor="start" >50</text>
<line x1="640" y1="150.53" x2="643" y2="150.53" stroke="#f08228" stroke-width="1.3" />
<line x1="640" y1="119.79" x2="643" y2="119.79" stroke="#f08228" stroke-width="1.3" />
<line x1="640" y1="89.05" x2="643" y2="89.05" stroke="#f08228" stroke-width="1.3" />
<line x1="640" y1="58.31" x2="643" y2="58.31" stroke="#f08228" stroke-width="1.3" />
<line x1="640" y1="27.57" x2="643" y2="27.57" stroke="#f08228" stroke-width="1.3" />
<line x1="405.15" y1="165.9" x2="405.15" y2="171.9" stroke="#000" stroke-width="1.4" />
<text x="405.15" y="184.6" font-size="11" fill="#151515" stroke="#151515" stroke-width="0.25" text-anchor="middle" >50</text>
<line x1="447.85" y1="165.9" x2="447.85" y2="171.9" stroke="#000" stroke-width="1.4" />
<text x="447.85" y="184.6" font-size="11" fill="#151515" stroke="#151515" stroke-width="0.25" text-anchor="middle" >60</text>
<line x1="490.55" y1="165.9" x2="490.55" y2="171.9" stroke="#000" stroke-width="1.4" />
<text x="490.55" y="184.6" font-size="11" fill="#151515" stroke="#151515" stroke-width="0.25" text-anchor="middle" >70</text>
<line x1="533.25" y1="165.9" x2="533.25" y2="171.9" stroke="#000" stroke-width="1.4" />
<text x="533.25" y="184.6" font-size="11" fill="#151515" stroke="#151515" stroke-width="0.25" text-anchor="middle" >80</text>
<line x1="575.95" y1="165.9" x2="575.95" y2="171.9" stroke="#000" stroke-width="1.4" />
<text x="575.95" y="184.6" font-size="11" fill="#151515" stroke="#151515" stroke-width="0.25" text-anchor="middle" >90</text>
<line x1="618.65" y1="165.9" x2="618.65" y2="171.9" stroke="#000" stroke-width="1.4" />
<text x="618.65" y="184.6" font-size="11" fill="#151515" stroke="#151515" stroke-width="0.25" text-anchor="middle" >100</text>
<line x1="383.8" y1="165.9" x2="383.8" y2="168.9" stroke="#000" stroke-width="1.4" />
<line x1="426.5" y1="165.9" x2="426.5" y2="168.9" stroke="#000" stroke-width="1.4" />
<line x1="469.2" y1="165.9" x2="469.2" y2="168.9" stroke="#000" stroke-width="1.4" />
<line x1="511.9" y1="165.9" x2="511.9" y2="168.9" stroke="#000" stroke-width="1.4" />
<line x1="554.6" y1="165.9" x2="554.6" y2="168.9" stroke="#000" stroke-width="1.4" />
<line x1="597.3" y1="165.9" x2="597.3" y2="168.9" stroke="#000" stroke-width="1.4" />
<line x1="640" y1="165.9" x2="640" y2="168.9" stroke="#000" stroke-width="1.4" />
<text x="0" y="0" font-size="11.2" fill="#1472c0" stroke="#1472c0" stroke-width="0.08" text-anchor="middle" transform="translate(353.9,88.9) rotate(-90)">Extintion ratio</text>
<text x="0" y="0" font-size="11.9" fill="#f08228" stroke="#f08228" stroke-width="0.08" text-anchor="middle" transform="translate(679,88.75) rotate(-90)">Amplification</text>
<text x="512.2" y="203.7" font-size="11.3" fill="#151515" stroke="#151515" stroke-width="0.25" text-anchor="middle">Transistor fluence (<tspan>μ</tspan>J cm<tspan dy="-5" font-size="8">−2</tspan><tspan dy="5">)</tspan></text>
<polyline points="405.15,158.5 422.23,160.4 435.04,154.4 452.12,160.4 464.93,159.1 482.01,155.2 494.82,147.4 511.9,132.5 528.98,116 541.79,90.9 558.87,84.7 571.68,62.7 588.76,67.2 601.57,45.6 618.65,31.1" stroke="#f5a060" stroke-width="0.9" fill="none" stroke-linejoin="round"/>
<polyline points="405.15,132.6 422.23,150.6 435.04,129.3 452.12,150.7 464.93,145.6 482.01,140.4 494.82,111.9 511.9,74.1 528.98,35.2 541.79,71.9 558.87,115.7 571.68,125.9 588.76,133.4 601.57,130.4 618.65,138" stroke="#2a84cc" stroke-width="0.95" fill="none" stroke-linejoin="round"/>
<polygon points="405.15,154.46 401.65,160.52 408.65,160.52" stroke="#f08a30" stroke-width="1.3" fill="white" stroke-linejoin="miter"/>
<polygon points="422.23,156.36 418.73,162.42 425.73,162.42" stroke="#f08a30" stroke-width="1.3" fill="white" stroke-linejoin="miter"/>
<polygon points="435.04,150.36 431.54,156.42 438.54,156.42" stroke="#f08a30" stroke-width="1.3" fill="white" stroke-linejoin="miter"/>
<polygon points="452.12,156.36 448.62,162.42 455.62,162.42" stroke="#f08a30" stroke-width="1.3" fill="white" stroke-linejoin="miter"/>
<polygon points="464.93,155.06 461.43,161.12 468.43,161.12" stroke="#f08a30" stroke-width="1.3" fill="white" stroke-linejoin="miter"/>
<polygon points="482.01,151.16 478.51,157.22 485.51,157.22" stroke="#f08a30" stroke-width="1.3" fill="white" stroke-linejoin="miter"/>
<polygon points="494.82,143.36 491.32,149.42 498.32,149.42" stroke="#f08a30" stroke-width="1.3" fill="white" stroke-linejoin="miter"/>
<polygon points="511.9,128.46 508.4,134.52 515.4,134.52" stroke="#f08a30" stroke-width="1.3" fill="white" stroke-linejoin="miter"/>
<polygon points="528.98,111.96 525.48,118.02 532.48,118.02" stroke="#f08a30" stroke-width="1.3" fill="white" stroke-linejoin="miter"/>
<polygon points="541.79,86.86 538.29,92.92 545.29,92.92" stroke="#f08a30" stroke-width="1.3" fill="white" stroke-linejoin="miter"/>
<polygon points="558.87,80.66 555.37,86.72 562.37,86.72" stroke="#f08a30" stroke-width="1.3" fill="white" stroke-linejoin="miter"/>
<polygon points="571.68,58.66 568.18,64.72 575.18,64.72" stroke="#f08a30" stroke-width="1.3" fill="white" stroke-linejoin="miter"/>
<polygon points="588.76,63.16 585.26,69.22 592.26,69.22" stroke="#f08a30" stroke-width="1.3" fill="white" stroke-linejoin="miter"/>
<polygon points="601.57,41.56 598.07,47.62 605.07,47.62" stroke="#f08a30" stroke-width="1.3" fill="white" stroke-linejoin="miter"/>
<polygon points="618.65,27.06 615.15,33.12 622.15,33.12" stroke="#f08a30" stroke-width="1.3" fill="white" stroke-linejoin="miter"/>
<circle cx="405.15" cy="132.6" r="2.7" stroke="#1a78c8" stroke-width="1.4" fill="white"/>
<circle cx="422.23" cy="150.6" r="2.7" stroke="#1a78c8" stroke-width="1.4" fill="white"/>
<circle cx="435.04" cy="129.3" r="2.7" stroke="#1a78c8" stroke-width="1.4" fill="white"/>
<circle cx="452.12" cy="150.7" r="2.7" stroke="#1a78c8" stroke-width="1.4" fill="white"/>
<circle cx="464.93" cy="145.6" r="2.7" stroke="#1a78c8" stroke-width="1.4" fill="white"/>
<circle cx="482.01" cy="140.4" r="2.7" stroke="#1a78c8" stroke-width="1.4" fill="white"/>
<circle cx="494.82" cy="111.9" r="2.7" stroke="#1a78c8" stroke-width="1.4" fill="white"/>
<circle cx="511.9" cy="74.1" r="2.7" stroke="#1a78c8" stroke-width="1.4" fill="white"/>
<circle cx="528.98" cy="35.2" r="2.7" stroke="#1a78c8" stroke-width="1.4" fill="white"/>
<circle cx="541.79" cy="71.9" r="2.7" stroke="#1a78c8" stroke-width="1.4" fill="white"/>
<circle cx="558.87" cy="115.7" r="2.7" stroke="#1a78c8" stroke-width="1.4" fill="white"/>
<circle cx="571.68" cy="125.9" r="2.7" stroke="#1a78c8" stroke-width="1.4" fill="white"/>
<circle cx="588.76" cy="133.4" r="2.7" stroke="#1a78c8" stroke-width="1.4" fill="white"/>
<circle cx="601.57" cy="130.4" r="2.7" stroke="#1a78c8" stroke-width="1.4" fill="white"/>
<circle cx="618.65" cy="138" r="2.7" stroke="#1a78c8" stroke-width="1.4" fill="white"/>
<line x1="486" y1="34.9" x2="515.8" y2="34.9" stroke="#1470bc" stroke-width="1.4" />
<polygon points="474.6,34.9 486.5,30.9 486.5,38.9" fill="#1470bc"/>
<line x1="594" y1="63.5" x2="625" y2="63.5" stroke="#f08228" stroke-width="1.4" />
<polygon points="635.4,63.5 623.8,59.7 623.8,67.3" fill="#f08228"/>
<rect x="48.5" y="237.1" width="70.1" height="153.5" fill="#c0c0c0"/>
<text x="77.6" y="303.8" font-size="9.5" fill="#151515" stroke="#151515" stroke-width="0.25" text-anchor="middle" >Inaccessible</text>
<text x="77.6" y="316.3" font-size="9.5" fill="#151515" stroke="#151515" stroke-width="0.25" text-anchor="middle" >region</text>
<rect x="48.5" y="237.1" width="256" height="153.5" fill="none" stroke="#000" stroke-width="1.45"/>
<line x1="42.5" y1="390.6" x2="48.5" y2="390.6" stroke="#000" stroke-width="1.4" />
<text x="37.6" y="394.5" font-size="11" fill="#151515" stroke="#151515" stroke-width="0.25" text-anchor="end" >1</text>
<line x1="42.5" y1="313.85" x2="48.5" y2="313.85" stroke="#000" stroke-width="1.4" />
<text x="37.6" y="317.75" font-size="11" fill="#151515" stroke="#151515" stroke-width="0.25" text-anchor="end" >10</text>
<line x1="42.5" y1="237.1" x2="48.5" y2="237.1" stroke="#000" stroke-width="1.4" />
<text x="37.6" y="241" font-size="11" fill="#151515" stroke="#151515" stroke-width="0.25" text-anchor="end" >100</text>
<line x1="45.5" y1="367.5" x2="48.5" y2="367.5" stroke="#000" stroke-width="1.4" />
<line x1="45.5" y1="344.39" x2="48.5" y2="344.39" stroke="#000" stroke-width="1.4" />
<line x1="45.5" y1="330.88" x2="48.5" y2="330.88" stroke="#000" stroke-width="1.4" />
<line x1="45.5" y1="321.29" x2="48.5" y2="321.29" stroke="#000" stroke-width="1.4" />
<line x1="45.5" y1="290.75" x2="48.5" y2="290.75" stroke="#000" stroke-width="1.4" />
<line x1="45.5" y1="267.64" x2="48.5" y2="267.64" stroke="#000" stroke-width="1.4" />
<line x1="45.5" y1="254.13" x2="48.5" y2="254.13" stroke="#000" stroke-width="1.4" />
<line x1="45.5" y1="244.54" x2="48.5" y2="244.54" stroke="#000" stroke-width="1.4" />
<line x1="48.5" y1="390.6" x2="48.5" y2="396.6" stroke="#000" stroke-width="1.4" />
<text x="48.5" y="409.9" font-size="11" fill="#151515" stroke="#151515" stroke-width="0.25" text-anchor="middle" >2</text>
<line x1="112.99" y1="390.6" x2="112.99" y2="396.6" stroke="#000" stroke-width="1.4" />
<text x="112.99" y="409.9" font-size="11" fill="#151515" stroke="#151515" stroke-width="0.25" text-anchor="middle" >3</text>
<line x1="158.75" y1="390.6" x2="158.75" y2="396.6" stroke="#000" stroke-width="1.4" />
<text x="158.75" y="409.9" font-size="11" fill="#151515" stroke="#151515" stroke-width="0.25" text-anchor="middle" >4</text>
<line x1="194.25" y1="390.6" x2="194.25" y2="396.6" stroke="#000" stroke-width="1.4" />
<text x="194.25" y="409.9" font-size="11" fill="#151515" stroke="#151515" stroke-width="0.25" text-anchor="middle" >5</text>
<line x1="223.25" y1="390.6" x2="223.25" y2="396.6" stroke="#000" stroke-width="1.4" />
<text x="223.25" y="409.9" font-size="11" fill="#151515" stroke="#151515" stroke-width="0.25" text-anchor="middle" >6</text>
<line x1="247.77" y1="390.6" x2="247.77" y2="396.6" stroke="#000" stroke-width="1.4" />
<text x="247.77" y="409.9" font-size="11" fill="#151515" stroke="#151515" stroke-width="0.25" text-anchor="middle" >7</text>
<line x1="269.01" y1="390.6" x2="269.01" y2="396.6" stroke="#000" stroke-width="1.4" />
<text x="269.01" y="409.9" font-size="11" fill="#151515" stroke="#151515" stroke-width="0.25" text-anchor="middle" >8</text>
<line x1="287.74" y1="390.6" x2="287.74" y2="396.6" stroke="#000" stroke-width="1.4" />
<text x="287.74" y="409.9" font-size="11" fill="#151515" stroke="#151515" stroke-width="0.25" text-anchor="middle" >9</text>
<line x1="304.5" y1="390.6" x2="304.5" y2="396.6" stroke="#000" stroke-width="1.4" />
<text x="304.5" y="409.9" font-size="11" fill="#151515" stroke="#151515" stroke-width="0.25" text-anchor="middle" >10</text>
<line x1="83.99" y1="390.6" x2="83.99" y2="393.6" stroke="#000" stroke-width="1.4" />
<line x1="137.51" y1="390.6" x2="137.51" y2="393.6" stroke="#000" stroke-width="1.4" />
<line x1="177.49" y1="390.6" x2="177.49" y2="393.6" stroke="#000" stroke-width="1.4" />
<line x1="209.41" y1="390.6" x2="209.41" y2="393.6" stroke="#000" stroke-width="1.4" />
<line x1="235.98" y1="390.6" x2="235.98" y2="393.6" stroke="#000" stroke-width="1.4" />
<line x1="258.74" y1="390.6" x2="258.74" y2="393.6" stroke="#000" stroke-width="1.4" />
<line x1="278.65" y1="390.6" x2="278.65" y2="393.6" stroke="#000" stroke-width="1.4" />
<line x1="296.34" y1="390.6" x2="296.34" y2="393.6" stroke="#000" stroke-width="1.4" />
<text x="0" y="0" font-size="11.2" fill="#151515" stroke="#151515" stroke-width="0.25" text-anchor="middle" transform="translate(8.7,313.8) rotate(-90)">Amplification</text>
<text x="176.5" y="426.2" font-size="11.2" fill="#151515" stroke="#151515" stroke-width="0.25" text-anchor="middle" >Seed output (a.u.)</text>
<polyline points="123,288.9 179.1,318.5 222.8,340.2 252.4,345 272.8,351.5 287,362.6 298.1,377.4" stroke="#c4dc50" stroke-width="1.1" fill="none" stroke-linejoin="round"/>
<polyline points="123,287 179.1,305.5 222.8,330.2 252.4,327 272.8,337.6 287,345 298.1,358.3" stroke="#50c088" stroke-width="1.1" fill="none" stroke-linejoin="round"/>
<polyline points="123,274.8 179.1,305.2 222.8,321.7 252.4,318.5 272.8,327.8 287,338.9 298.1,344.4" stroke="#40a8a8" stroke-width="1.1" fill="none" stroke-linejoin="round"/>
<polyline points="123,268.5 179.1,302.8 222.8,314.4 252.4,310.2 272.8,320.4 287,326.5 298.1,335.2" stroke="#4a70a4" stroke-width="1.1" fill="none" stroke-linejoin="round"/>
<polyline points="123,261.1 179.1,292 222.8,307.8 252.4,325.6 272.8,316.3 287,317.6 298.1,319.1" stroke="#6a4aa4" stroke-width="1.1" fill="none" stroke-linejoin="round"/>
<circle cx="123" cy="288.9" r="2.7" stroke="#bcd630" stroke-width="1.4" fill="white"/>
<circle cx="179.1" cy="318.5" r="2.7" stroke="#bcd630" stroke-width="1.4" fill="white"/>
<circle cx="222.8" cy="340.2" r="2.7" stroke="#bcd630" stroke-width="1.4" fill="white"/>
<circle cx="252.4" cy="345" r="2.7" stroke="#bcd630" stroke-width="1.4" fill="white"/>
<circle cx="272.8" cy="351.5" r="2.7" stroke="#bcd630" stroke-width="1.4" fill="white"/>
<circle cx="287" cy="362.6" r="2.7" stroke="#bcd630" stroke-width="1.4" fill="white"/>
<circle cx="298.1" cy="377.4" r="2.7" stroke="#bcd630" stroke-width="1.4" fill="white"/>
<polygon points="123,282.84 119.4,289.08 126.6,289.08" stroke="#3cb878" stroke-width="1.35" fill="white" stroke-linejoin="miter"/>
<polygon points="179.1,301.34 175.5,307.58 182.7,307.58" stroke="#3cb878" stroke-width="1.35" fill="white" stroke-linejoin="miter"/>
<polygon points="222.8,326.04 219.2,332.28 226.4,332.28" stroke="#3cb878" stroke-width="1.35" fill="white" stroke-linejoin="miter"/>
<polygon points="252.4,322.84 248.8,329.08 256,329.08" stroke="#3cb878" stroke-width="1.35" fill="white" stroke-linejoin="miter"/>
<polygon points="272.8,333.44 269.2,339.68 276.4,339.68" stroke="#3cb878" stroke-width="1.35" fill="white" stroke-linejoin="miter"/>
<polygon points="287,340.84 283.4,347.08 290.6,347.08" stroke="#3cb878" stroke-width="1.35" fill="white" stroke-linejoin="miter"/>
<polygon points="298.1,354.14 294.5,360.38 301.7,360.38" stroke="#3cb878" stroke-width="1.35" fill="white" stroke-linejoin="miter"/>
<polygon points="123,278.96 119.4,272.72 126.6,272.72" stroke="#20989a" stroke-width="1.35" fill="white"/>
<polygon points="179.1,309.36 175.5,303.12 182.7,303.12" stroke="#20989a" stroke-width="1.35" fill="white"/>
<polygon points="222.8,325.86 219.2,319.62 226.4,319.62" stroke="#20989a" stroke-width="1.35" fill="white"/>
<polygon points="252.4,322.66 248.8,316.42 256,316.42" stroke="#20989a" stroke-width="1.35" fill="white"/>
<polygon points="272.8,331.96 269.2,325.72 276.4,325.72" stroke="#20989a" stroke-width="1.35" fill="white"/>
<polygon points="287,343.06 283.4,336.82 290.6,336.82" stroke="#20989a" stroke-width="1.35" fill="white"/>
<polygon points="298.1,348.56 294.5,342.32 301.7,342.32" stroke="#20989a" stroke-width="1.35" fill="white"/>
<polygon points="123,264.9 126.6,268.5 123,272.1 119.4,268.5" stroke="#3a6098" stroke-width="1.35" fill="white"/>
<polygon points="179.1,299.2 182.7,302.8 179.1,306.4 175.5,302.8" stroke="#3a6098" stroke-width="1.35" fill="white"/>
<polygon points="222.8,310.8 226.4,314.4 222.8,318 219.2,314.4" stroke="#3a6098" stroke-width="1.35" fill="white"/>
<polygon points="252.4,306.6 256,310.2 252.4,313.8 248.8,310.2" stroke="#3a6098" stroke-width="1.35" fill="white"/>
<polygon points="272.8,316.8 276.4,320.4 272.8,324 269.2,320.4" stroke="#3a6098" stroke-width="1.35" fill="white"/>
<polygon points="287,322.9 290.6,326.5 287,330.1 283.4,326.5" stroke="#3a6098" stroke-width="1.35" fill="white"/>
<polygon points="298.1,331.6 301.7,335.2 298.1,338.8 294.5,335.2" stroke="#3a6098" stroke-width="1.35" fill="white"/>
<rect x="120.3" y="258.4" width="5.4" height="5.4" stroke="#4e2e90" stroke-width="1.35" fill="white"/>
<rect x="176.4" y="289.3" width="5.4" height="5.4" stroke="#4e2e90" stroke-width="1.35" fill="white"/>
<rect x="220.1" y="305.1" width="5.4" height="5.4" stroke="#4e2e90" stroke-width="1.35" fill="white"/>
<rect x="249.7" y="322.9" width="5.4" height="5.4" stroke="#4e2e90" stroke-width="1.35" fill="white"/>
<rect x="270.1" y="313.6" width="5.4" height="5.4" stroke="#4e2e90" stroke-width="1.35" fill="white"/>
<rect x="284.3" y="314.9" width="5.4" height="5.4" stroke="#4e2e90" stroke-width="1.35" fill="white"/>
<rect x="295.4" y="316.4" width="5.4" height="5.4" stroke="#4e2e90" stroke-width="1.35" fill="white"/>
<line x1="234.2" y1="247.1" x2="255.4" y2="247.1" stroke="#c8de60" stroke-width="1.1" />
<circle cx="245" cy="247.1" r="2.7" stroke="#bcd630" stroke-width="1.4" fill="white"/>
<text x="260.7" y="250.3" font-size="9.7" fill="#151515" stroke="#151515" stroke-width="0.25">0.97 P<tspan dx="0.6" dy="3.6" font-size="5.8">th</tspan></text>
<line x1="234.2" y1="258.5" x2="255.4" y2="258.5" stroke="#60c898" stroke-width="1.1" />
<polygon points="245,254.34 241.4,260.58 248.6,260.58" stroke="#3cb878" stroke-width="1.35" fill="white" stroke-linejoin="miter"/>
<text x="260.7" y="261.7" font-size="9.7" fill="#151515" stroke="#151515" stroke-width="0.25">1.04 P<tspan dx="0.6" dy="3.6" font-size="5.8">th</tspan></text>
<line x1="234.2" y1="270.1" x2="255.4" y2="270.1" stroke="#58b4b4" stroke-width="1.1" />
<polygon points="245,274.26 241.4,268.02 248.6,268.02" stroke="#20989a" stroke-width="1.35" fill="white"/>
<text x="260.7" y="273.3" font-size="9.7" fill="#151515" stroke="#151515" stroke-width="0.25">1.11 P<tspan dx="0.6" dy="3.6" font-size="5.8">th</tspan></text>
<line x1="234.2" y1="281.2" x2="255.4" y2="281.2" stroke="#5a7cb0" stroke-width="1.1" />
<polygon points="245,277.6 248.6,281.2 245,284.8 241.4,281.2" stroke="#3a6098" stroke-width="1.35" fill="white"/>
<text x="260.7" y="284.4" font-size="9.7" fill="#151515" stroke="#151515" stroke-width="0.25">1.18 P<tspan dx="0.6" dy="3.6" font-size="5.8">th</tspan></text>
<line x1="234.2" y1="292.6" x2="255.4" y2="292.6" stroke="#9078bc" stroke-width="1.1" />
<rect x="242.3" y="289.9" width="5.4" height="5.4" stroke="#4e2e90" stroke-width="1.35" fill="white"/>
<text x="260.7" y="295.8" font-size="9.7" fill="#151515" stroke="#151515" stroke-width="0.25">1.25 P<tspan dx="0.6" dy="3.6" font-size="5.8">th</tspan></text>
<line x1="184.1" y1="345.9" x2="219" y2="266.5" stroke="#151515" stroke-width="1.4" />
<polygon points="222.0,258.9 215.2,266.0 222.6,268.9" fill="#151515"/>
<text x="183.7" y="363" font-size="9.5" fill="#151515" stroke="#151515" stroke-width="0.25" text-anchor="middle" >Increasing</text>
<text x="183.4" y="373.9" font-size="9.5" fill="#151515" stroke="#151515" stroke-width="0.25" text-anchor="middle" >transistor fluence</text>
<line x1="383.8" y1="237.2" x2="640" y2="237.2" stroke="#000" stroke-width="1.45" />
<line x1="383.8" y1="391.1" x2="640" y2="391.1" stroke="#000" stroke-width="1.45" />
<line x1="383.8" y1="236.5" x2="383.8" y2="391.8" stroke="#1472c0" stroke-width="1.7" />
<line x1="640" y1="236.5" x2="640" y2="391.8" stroke="#f08228" stroke-width="1.7" />
<line x1="377.8" y1="237.2" x2="383.8" y2="237.2" stroke="#1472c0" stroke-width="1.3" />
<text x="372.8" y="241.1" font-size="11" fill="#1472c0" stroke="#1472c0" stroke-width="0.08" text-anchor="end" >−0.8</text>
<line x1="377.8" y1="259.19" x2="383.8" y2="259.19" stroke="#1472c0" stroke-width="1.3" />
<text x="372.8" y="263.09" font-size="11" fill="#1472c0" stroke="#1472c0" stroke-width="0.08" text-anchor="end" >−0.9</text>
<line x1="377.8" y1="281.17" x2="383.8" y2="281.17" stroke="#1472c0" stroke-width="1.3" />
<text x="372.8" y="285.07" font-size="11" fill="#1472c0" stroke="#1472c0" stroke-width="0.08" text-anchor="end" >−1.0</text>
<line x1="377.8" y1="303.16" x2="383.8" y2="303.16" stroke="#1472c0" stroke-width="1.3" />
<text x="372.8" y="307.06" font-size="11" fill="#1472c0" stroke="#1472c0" stroke-width="0.08" text-anchor="end" >−1.1</text>
<line x1="377.8" y1="325.14" x2="383.8" y2="325.14" stroke="#1472c0" stroke-width="1.3" />
<text x="372.8" y="329.04" font-size="11" fill="#1472c0" stroke="#1472c0" stroke-width="0.08" text-anchor="end" >−1.2</text>
<line x1="377.8" y1="347.13" x2="383.8" y2="347.13" stroke="#1472c0" stroke-width="1.3" />
<text x="372.8" y="351.03" font-size="11" fill="#1472c0" stroke="#1472c0" stroke-width="0.08" text-anchor="end" >−1.3</text>
<line x1="377.8" y1="369.11" x2="383.8" y2="369.11" stroke="#1472c0" stroke-width="1.3" />
<text x="372.8" y="373.01" font-size="11" fill="#1472c0" stroke="#1472c0" stroke-width="0.08" text-anchor="end" >−1.4</text>
<line x1="377.8" y1="391.1" x2="383.8" y2="391.1" stroke="#1472c0" stroke-width="1.3" />
<text x="372.8" y="395" font-size="11" fill="#1472c0" stroke="#1472c0" stroke-width="0.08" text-anchor="end" >−1.5</text>
<line x1="380.8" y1="248.19" x2="383.8" y2="248.19" stroke="#1472c0" stroke-width="1.3" />
<line x1="380.8" y1="270.18" x2="383.8" y2="270.18" stroke="#1472c0" stroke-width="1.3" />
<line x1="380.8" y1="292.16" x2="383.8" y2="292.16" stroke="#1472c0" stroke-width="1.3" />
<line x1="380.8" y1="314.15" x2="383.8" y2="314.15" stroke="#1472c0" stroke-width="1.3" />
<line x1="380.8" y1="336.14" x2="383.8" y2="336.14" stroke="#1472c0" stroke-width="1.3" />
<line x1="380.8" y1="358.12" x2="383.8" y2="358.12" stroke="#1472c0" stroke-width="1.3" />
<line x1="380.8" y1="380.11" x2="383.8" y2="380.11" stroke="#1472c0" stroke-width="1.3" />
<line x1="640" y1="391.1" x2="646" y2="391.1" stroke="#f08228" stroke-width="1.3" />
<text x="650.5" y="395" font-size="11" fill="#f08228" stroke="#f08228" stroke-width="0.08" text-anchor="start" >1.0</text>
<line x1="640" y1="369.11" x2="646" y2="369.11" stroke="#f08228" stroke-width="1.3" />
<text x="650.5" y="373.01" font-size="11" fill="#f08228" stroke="#f08228" stroke-width="0.08" text-anchor="start" >1.1</text>
<line x1="640" y1="347.13" x2="646" y2="347.13" stroke="#f08228" stroke-width="1.3" />
<text x="650.5" y="351.03" font-size="11" fill="#f08228" stroke="#f08228" stroke-width="0.08" text-anchor="start" >1.2</text>
<line x1="640" y1="325.14" x2="646" y2="325.14" stroke="#f08228" stroke-width="1.3" />
<text x="650.5" y="329.04" font-size="11" fill="#f08228" stroke="#f08228" stroke-width="0.08" text-anchor="start" >1.3</text>
<line x1="640" y1="303.16" x2="646" y2="303.16" stroke="#f08228" stroke-width="1.3" />
<text x="650.5" y="307.06" font-size="11" fill="#f08228" stroke="#f08228" stroke-width="0.08" text-anchor="start" >1.4</text>
<line x1="640" y1="281.17" x2="646" y2="281.17" stroke="#f08228" stroke-width="1.3" />
<text x="650.5" y="285.07" font-size="11" fill="#f08228" stroke="#f08228" stroke-width="0.08" text-anchor="start" >1.5</text>
<line x1="640" y1="259.19" x2="646" y2="259.19" stroke="#f08228" stroke-width="1.3" />
<text x="650.5" y="263.09" font-size="11" fill="#f08228" stroke="#f08228" stroke-width="0.08" text-anchor="start" >1.6</text>
<line x1="640" y1="237.2" x2="646" y2="237.2" stroke="#f08228" stroke-width="1.3" />
<text x="650.5" y="241.1" font-size="11" fill="#f08228" stroke="#f08228" stroke-width="0.08" text-anchor="start" >1.7</text>
<line x1="640" y1="380.11" x2="643" y2="380.11" stroke="#f08228" stroke-width="1.3" />
<line x1="640" y1="358.12" x2="643" y2="358.12" stroke="#f08228" stroke-width="1.3" />
<line x1="640" y1="336.14" x2="643" y2="336.14" stroke="#f08228" stroke-width="1.3" />
<line x1="640" y1="314.15" x2="643" y2="314.15" stroke="#f08228" stroke-width="1.3" />
<line x1="640" y1="292.16" x2="643" y2="292.16" stroke="#f08228" stroke-width="1.3" />
<line x1="640" y1="270.18" x2="643" y2="270.18" stroke="#f08228" stroke-width="1.3" />
<line x1="640" y1="248.19" x2="643" y2="248.19" stroke="#f08228" stroke-width="1.3" />
<line x1="405.15" y1="391.1" x2="405.15" y2="397.1" stroke="#000" stroke-width="1.4" />
<text x="405.15" y="409.9" font-size="11" fill="#151515" stroke="#151515" stroke-width="0.25" text-anchor="middle" >50</text>
<line x1="447.85" y1="391.1" x2="447.85" y2="397.1" stroke="#000" stroke-width="1.4" />
<text x="447.85" y="409.9" font-size="11" fill="#151515" stroke="#151515" stroke-width="0.25" text-anchor="middle" >60</text>
<line x1="490.55" y1="391.1" x2="490.55" y2="397.1" stroke="#000" stroke-width="1.4" />
<text x="490.55" y="409.9" font-size="11" fill="#151515" stroke="#151515" stroke-width="0.25" text-anchor="middle" >70</text>
<line x1="533.25" y1="391.1" x2="533.25" y2="397.1" stroke="#000" stroke-width="1.4" />
<text x="533.25" y="409.9" font-size="11" fill="#151515" stroke="#151515" stroke-width="0.25" text-anchor="middle" >80</text>
<line x1="575.95" y1="391.1" x2="575.95" y2="397.1" stroke="#000" stroke-width="1.4" />
<text x="575.95" y="409.9" font-size="11" fill="#151515" stroke="#151515" stroke-width="0.25" text-anchor="middle" >90</text>
<line x1="618.65" y1="391.1" x2="618.65" y2="397.1" stroke="#000" stroke-width="1.4" />
<text x="618.65" y="409.9" font-size="11" fill="#151515" stroke="#151515" stroke-width="0.25" text-anchor="middle" >100</text>
<line x1="383.8" y1="391.1" x2="383.8" y2="394.1" stroke="#000" stroke-width="1.4" />
<line x1="426.5" y1="391.1" x2="426.5" y2="394.1" stroke="#000" stroke-width="1.4" />
<line x1="469.2" y1="391.1" x2="469.2" y2="394.1" stroke="#000" stroke-width="1.4" />
<line x1="511.9" y1="391.1" x2="511.9" y2="394.1" stroke="#000" stroke-width="1.4" />
<line x1="554.6" y1="391.1" x2="554.6" y2="394.1" stroke="#000" stroke-width="1.4" />
<line x1="597.3" y1="391.1" x2="597.3" y2="394.1" stroke="#000" stroke-width="1.4" />
<line x1="640" y1="391.1" x2="640" y2="394.1" stroke="#000" stroke-width="1.4" />
<text x="0" y="0" font-size="11.3" fill="#1472c0" stroke="#1472c0" stroke-width="0.08" text-anchor="middle" transform="translate(340.2,314) rotate(-90)">Optimal time-delay (ps)</text>
<text x="0" y="0" font-size="11.2" fill="#f08228" stroke="#f08228" stroke-width="0.08" text-anchor="middle" transform="translate(682.2,313.7) rotate(-90)">Width (ps)</text>
<text x="512.2" y="428.9" font-size="11.3" fill="#151515" stroke="#151515" stroke-width="0.25" text-anchor="middle">Transistor fluence (<tspan>μ</tspan>J cm<tspan dy="-5" font-size="8">−2</tspan><tspan dy="5">)</tspan></text>
<polyline points="494.82,317 511.9,371.2 528.98,365.4 541.79,364.2 558.87,345 571.68,301.3 588.76,290.2 601.57,281.1 618.65,254" stroke="#f5a060" stroke-width="0.9" fill="none" stroke-linejoin="round"/>
<polyline points="494.82,264.8 511.9,282.8 528.98,300 541.79,304.3 558.87,321 571.68,340.8 588.76,358.8 601.57,350.4 618.65,362.6" stroke="#2a84cc" stroke-width="0.95" fill="none" stroke-linejoin="round"/>
<polygon points="494.82,312.96 491.32,319.02 498.32,319.02" stroke="#f08a30" stroke-width="1.3" fill="white" stroke-linejoin="miter"/>
<polygon points="511.9,367.16 508.4,373.22 515.4,373.22" stroke="#f08a30" stroke-width="1.3" fill="white" stroke-linejoin="miter"/>
<polygon points="528.98,361.36 525.48,367.42 532.48,367.42" stroke="#f08a30" stroke-width="1.3" fill="white" stroke-linejoin="miter"/>
<polygon points="541.79,360.16 538.29,366.22 545.29,366.22" stroke="#f08a30" stroke-width="1.3" fill="white" stroke-linejoin="miter"/>
<polygon points="558.87,340.96 555.37,347.02 562.37,347.02" stroke="#f08a30" stroke-width="1.3" fill="white" stroke-linejoin="miter"/>
<polygon points="571.68,297.26 568.18,303.32 575.18,303.32" stroke="#f08a30" stroke-width="1.3" fill="white" stroke-linejoin="miter"/>
<polygon points="588.76,286.16 585.26,292.22 592.26,292.22" stroke="#f08a30" stroke-width="1.3" fill="white" stroke-linejoin="miter"/>
<polygon points="601.57,277.06 598.07,283.12 605.07,283.12" stroke="#f08a30" stroke-width="1.3" fill="white" stroke-linejoin="miter"/>
<polygon points="618.65,249.96 615.15,256.02 622.15,256.02" stroke="#f08a30" stroke-width="1.3" fill="white" stroke-linejoin="miter"/>
<circle cx="494.82" cy="264.8" r="2.7" stroke="#1a78c8" stroke-width="1.4" fill="white"/>
<circle cx="511.9" cy="282.8" r="2.7" stroke="#1a78c8" stroke-width="1.4" fill="white"/>
<circle cx="528.98" cy="300" r="2.7" stroke="#1a78c8" stroke-width="1.4" fill="white"/>
<circle cx="541.79" cy="304.3" r="2.7" stroke="#1a78c8" stroke-width="1.4" fill="white"/>
<circle cx="558.87" cy="321" r="2.7" stroke="#1a78c8" stroke-width="1.4" fill="white"/>
<circle cx="571.68" cy="340.8" r="2.7" stroke="#1a78c8" stroke-width="1.4" fill="white"/>
<circle cx="588.76" cy="358.8" r="2.7" stroke="#1a78c8" stroke-width="1.4" fill="white"/>
<circle cx="601.57" cy="350.4" r="2.7" stroke="#1a78c8" stroke-width="1.4" fill="white"/>
<circle cx="618.65" cy="362.6" r="2.7" stroke="#1a78c8" stroke-width="1.4" fill="white"/>
<line x1="487.8" y1="264.6" x2="455" y2="264.6" stroke="#1470bc" stroke-width="1.4" />
<polygon points="445.4,264.6 457.3,260.6 457.3,268.6" fill="#1470bc"/>
<line x1="595.9" y1="290.2" x2="625" y2="290.2" stroke="#f08228" stroke-width="1.4" />
<polygon points="635.4,290.2 623.8,286.4 623.8,294.0" fill="#f08228"/>
</svg>
</body></html>
